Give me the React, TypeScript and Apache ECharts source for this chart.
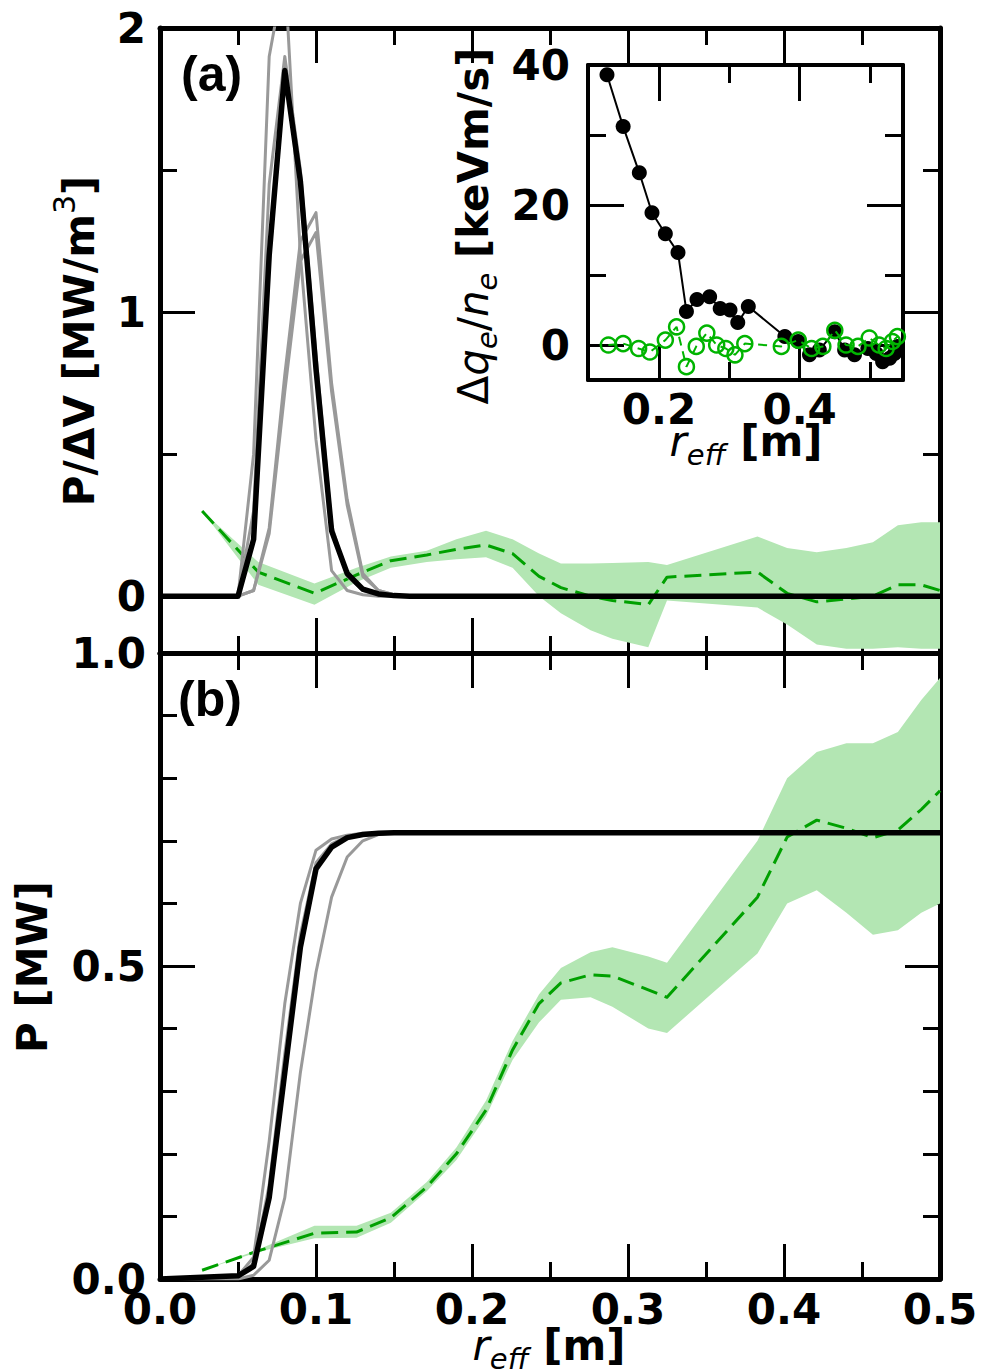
import React, { useEffect, useRef } from 'react';
import * as echarts from 'echarts';

// ---------- data ----------
// radial grid for the deposition profiles (black = model, gray = variants)
const rx = [0, 0.05, 0.06, 0.07, 0.08, 0.09, 0.1, 0.11, 0.12, 0.13, 0.14, 0.15, 0.16, 0.5];
const pdvBlack = [0, 0, 0.2, 1.2, 1.85, 1.46, 0.8, 0.23, 0.08, 0.025, 0.008, 0.002, 0, 0];
const pdvGrayA = [0, 0, 0.5, 1.9, 2.2, 1.2, 0.55, 0.09, 0.02, 0.005, 0, 0, 0, 0];
const pdvGrayB = [0, 0, 0.3, 1.45, 1.9, 1.5, 0.85, 0.25, 0.07, 0.02, 0.005, 0, 0, 0];
const pdvGrayC = [0, 0, 0.02, 0.24, 0.78, 1.25, 1.35, 0.75, 0.34, 0.08, 0.02, 0.005, 0, 0];
const pdvGrayD = [0, 0, 0.02, 0.22, 0.72, 1.18, 1.28, 0.72, 0.32, 0.07, 0.02, 0.005, 0, 0];

const pBlack = [0, 0.005, 0.02, 0.13, 0.33, 0.53, 0.655, 0.69, 0.705, 0.71, 0.712, 0.713, 0.713, 0.713];
const pGrayA = [0, 0.005, 0.035, 0.22, 0.44, 0.6, 0.685, 0.703, 0.709, 0.712, 0.713, 0.713, 0.713, 0.713];
const pGrayB = [0, 0.005, 0.025, 0.15, 0.36, 0.55, 0.665, 0.695, 0.707, 0.711, 0.713, 0.713, 0.713, 0.713];
const pGrayC = [0, 0, 0.006, 0.03, 0.13, 0.33, 0.49, 0.61, 0.674, 0.7, 0.71, 0.713, 0.713, 0.713];

// experimental (green) profiles with uncertainty band
const gx = [0.027, 0.063, 0.099, 0.126, 0.148, 0.171, 0.19, 0.209, 0.226, 0.243, 0.257, 0.276, 0.29, 0.313, 0.325, 0.383, 0.402, 0.421, 0.44, 0.457, 0.473, 0.488, 0.5];
const gPdv = [0.3, 0.085, 0.01, 0.075, 0.125, 0.145, 0.165, 0.18, 0.15, 0.07, 0.03, 0.0, -0.015, -0.03, 0.067, 0.085, 0.01, -0.02, -0.01, 0.0, 0.04, 0.04, 0.02];
const gPdvLo = [0.3, 0.04, -0.03, 0.05, 0.1, 0.12, 0.13, 0.137, 0.1, 0.0, -0.06, -0.12, -0.15, -0.18, -0.015, -0.04, -0.1, -0.17, -0.185, -0.185, -0.18, -0.185, -0.185];
const gPdvHi = [0.3, 0.12, 0.045, 0.1, 0.14, 0.16, 0.2, 0.23, 0.2, 0.15, 0.115, 0.115, 0.117, 0.12, 0.11, 0.21, 0.17, 0.155, 0.17, 0.19, 0.25, 0.26, 0.26];

const gP = [0.014, 0.045, 0.073, 0.075, 0.098, 0.147, 0.2, 0.27, 0.366, 0.44, 0.473, 0.486, 0.484, 0.462, 0.45, 0.61, 0.706, 0.733, 0.72, 0.705, 0.717, 0.75, 0.78];
const gPLo = [0.014, 0.043, 0.065, 0.066, 0.09, 0.14, 0.19, 0.26, 0.35, 0.41, 0.446, 0.45, 0.435, 0.4, 0.393, 0.52, 0.6, 0.621, 0.585, 0.55, 0.557, 0.585, 0.6];
const gPHi = [0.014, 0.047, 0.085, 0.085, 0.106, 0.155, 0.21, 0.285, 0.38, 0.455, 0.497, 0.522, 0.53, 0.515, 0.505, 0.7, 0.8, 0.842, 0.856, 0.856, 0.874, 0.925, 0.96];

// inset: delta q_e / n_e
const insBlackX = [0.126, 0.149, 0.172, 0.19, 0.209, 0.227, 0.239, 0.254, 0.272, 0.287, 0.301, 0.312, 0.327, 0.379, 0.398, 0.414, 0.428, 0.45, 0.464, 0.478, 0.497, 0.509, 0.518, 0.528, 0.535, 0.539];
const insBlackY = [38.6, 31.2, 24.6, 18.9, 15.9, 13.2, 4.8, 6.5, 6.9, 5.2, 5.0, 3.2, 5.5, 1.2, 0.5, -1.4, -0.7, 1.9, -0.7, -1.4, -0.5, -1.2, -2.4, -1.9, -1.2, -0.2];
const insGreenX = [0.128, 0.149, 0.171, 0.187, 0.209, 0.225, 0.239, 0.253, 0.268, 0.282, 0.295, 0.308, 0.322, 0.374, 0.398, 0.417, 0.433, 0.45, 0.466, 0.483, 0.499, 0.513, 0.523, 0.532, 0.539];
const insGreenY = [0, 0.2, -0.5, -1.0, 0.7, 2.6, -3.1, -0.2, 1.7, 0, -0.5, -1.4, 0.2, -0.2, 0.7, -0.5, -0.2, 2.1, 0, -0.2, 1.0, 0, -0.5, 0.5, 1.2];

const yTicksTop = [0, 1, 2];
const yMinorTop = [0.5, 1.5];
const xTicksInset = [0.2, 0.4];
const xMinorInset = [0.3, 0.5];
const yTicksInset = [0, 20, 40];
const yMinorInset = [10, 30];

// ---------- styles ----------
const FONT = 'DejaVu Sans';
const BLACK = '#000000';
const GRAY = '#999999';
const GREEN = '#00a000';
const GREEN2 = '#00b400';
const BAND = '#b3e6b3';

const labelStyle = { color: BLACK, fontFamily: FONT, fontWeight: 'bold' as const, fontSize: 42 };
const tickLine = { color: BLACK, width: 3 };

function xAxisMain(grid: number, position: string, showLabel: boolean) {
  return {
    type: 'value', gridIndex: grid, position, min: 0, max: 0.5, interval: 0.1,
    axisLine: { show: true, onZero: false, lineStyle: { color: BLACK, width: 5 } },
    axisTick: { show: true, inside: true, length: 35, lineStyle: tickLine },
    minorTick: { show: true, splitNumber: 2, length: 17, lineStyle: tickLine },
    splitLine: { show: false }, minorSplitLine: { show: false },
    axisLabel: showLabel
      ? { show: true, ...labelStyle, margin: 9, formatter: (v: number) => v.toFixed(1) }
      : { show: false },
  };
}

function customAxis(grid: number, position: string, min: number, max: number,
  ticks: number[], len: number, line: boolean, labels: number[] | null, fmt: (v: number) => string, margin: number, lw: number) {
  return {
    type: 'value', gridIndex: grid, position, min, max,
    axisLine: { show: line, onZero: false, lineStyle: { color: BLACK, width: lw } },
    axisTick: { show: true, inside: true, length: len, lineStyle: tickLine, customValues: ticks },
    splitLine: { show: false },
    axisLabel: labels ? { show: true, ...labelStyle, margin, customValues: labels, formatter: fmt } : { show: false },
  };
}

function yAxisBottom(position: string, showLabel: boolean) {
  return {
    type: 'value', gridIndex: 1, position, min: 0, max: 1, interval: 0.5,
    axisLine: { show: true, onZero: false, lineStyle: { color: BLACK, width: 5 } },
    axisTick: { show: true, inside: true, length: 35, lineStyle: tickLine },
    minorTick: { show: true, splitNumber: 5, length: 17, lineStyle: tickLine },
    splitLine: { show: false }, minorSplitLine: { show: false },
    axisLabel: showLabel ? { show: true, ...labelStyle, margin: 14, formatter: (v: number) => v.toFixed(1) } : { show: false },
  };
}

function lineSeries(xi: number, yi: number, xs: number[], ys: number[], color: string, width: number, z: number, type: any = 'solid') {
  return {
    type: 'line', xAxisIndex: xi, yAxisIndex: yi, silent: true, z,
    data: xs.map((x, i) => [x, ys[i]]),
    showSymbol: false, symbol: 'none',
    lineStyle: { color, width, type, join: 'round', cap: 'butt' },
  };
}

function bandSeries(xi: number, yi: number, lo: number[], hi: number[]) {
  return {
    type: 'custom', xAxisIndex: xi, yAxisIndex: yi, silent: true, clip: true, z: 1,
    data: [[gx[0], lo[0]]],
    renderItem: (_p: any, api: any) => {
      const up = gx.map((x, i) => api.coord([x, hi[i]]));
      const dn = gx.map((x, i) => api.coord([x, lo[i]])).reverse();
      return { type: 'polygon', shape: { points: up.concat(dn) }, style: { fill: BAND, stroke: null } };
    },
  };
}

const reg = { fontFamily: FONT, fontSize: 42, fill: BLACK };
const bold = { ...reg, fontWeight: 'bold' };
const ital = { ...reg, fontStyle: 'italic', fontWeight: 'normal' };
const sub = { fontFamily: FONT, fontSize: 29, fontStyle: 'italic', fontWeight: 'normal', fill: BLACK, padding: [28, 0, 0, 0] };
const sup = { fontFamily: FONT, fontSize: 30, fontWeight: 'normal', fill: BLACK, padding: [0, 0, 30, 0] };

function titleText(text: string, x: number, y: number, rotation: number) {
  return {
    type: 'text', x, y, rotation, z: 100, silent: true,
    style: {
      text, rich: { b: bold, i: ital, s: sub, u: sup, n: { ...reg, fontWeight: 'normal' } },
      align: 'center', verticalAlign: 'middle', textAlign: 'center', textVerticalAlign: 'middle',
    },
  };
}

function panelLabel(text: string, x: number, y: number) {
  return {
    type: 'text', x, y, z: 100, silent: true,
    style: {
      text, fontFamily: 'Liberation Sans', fontWeight: 'bold', fontSize: 50, fill: BLACK,
      align: 'left', verticalAlign: 'middle', textAlign: 'left', textVerticalAlign: 'middle',
    },
  };
}

const option: any = {
  animation: false,
  backgroundColor: '#ffffff',
  textStyle: { fontFamily: FONT },
  grid: [
    { left: 160, top: 28, width: 780, height: 625, outerBoundsMode: 'none', containLabel: false },
    { left: 160, top: 653, width: 780, height: 626, outerBoundsMode: 'none', containLabel: false },
    { left: 588, top: 65, width: 315, height: 315, outerBoundsMode: 'none', containLabel: false },
  ],
  xAxis: [
    xAxisMain(0, 'bottom', false),
    xAxisMain(0, 'top', false),
    xAxisMain(1, 'bottom', true),
    xAxisMain(1, 'top', false),
    customAxis(2, 'bottom', 0.099, 0.547, xTicksInset, 36, true, xTicksInset, (v) => v.toFixed(1), 8, 4),
    customAxis(2, 'bottom', 0.099, 0.547, xMinorInset, 18, false, null, (v) => String(v), 8, 4),
    customAxis(2, 'top', 0.099, 0.547, xTicksInset, 36, true, null, (v) => String(v), 8, 4),
    customAxis(2, 'top', 0.099, 0.547, xMinorInset, 18, false, null, (v) => String(v), 8, 4),
  ],
  yAxis: [
    customAxis(0, 'left', -0.2, 2, yTicksTop, 35, true, yTicksTop, (v) => String(Math.round(v)), 14, 5),
    customAxis(0, 'left', -0.2, 2, yMinorTop, 17, false, null, (v) => String(v), 14, 5),
    customAxis(0, 'right', -0.2, 2, yTicksTop, 35, true, null, (v) => String(v), 14, 5),
    customAxis(0, 'right', -0.2, 2, yMinorTop, 17, false, null, (v) => String(v), 14, 5),
    yAxisBottom('left', true),
    yAxisBottom('right', false),
    customAxis(2, 'left', -5, 40, yTicksInset, 36, true, yTicksInset, (v) => String(Math.round(v)), 18, 4),
    customAxis(2, 'left', -5, 40, yMinorInset, 18, false, null, (v) => String(v), 18, 4),
    customAxis(2, 'right', -5, 40, yTicksInset, 36, true, null, (v) => String(v), 18, 4),
    customAxis(2, 'right', -5, 40, yMinorInset, 18, false, null, (v) => String(v), 18, 4),
  ],
  series: [
    // panel (a)
    bandSeries(0, 0, gPdvLo, gPdvHi),
    lineSeries(0, 0, gx, gPdv, GREEN, 3, 2, [17, 8]),
    lineSeries(0, 0, rx, pdvGrayA, GRAY, 3, 3),
    lineSeries(0, 0, rx, pdvGrayB, GRAY, 3, 3),
    lineSeries(0, 0, rx, pdvGrayC, GRAY, 3, 3),
    lineSeries(0, 0, rx, pdvGrayD, GRAY, 3, 3),
    lineSeries(0, 0, rx, pdvBlack, BLACK, 5.5, 4),
    // panel (b)
    bandSeries(2, 4, gPLo, gPHi),
    lineSeries(2, 4, gx, gP, GREEN, 3, 2, [17, 8]),
    lineSeries(2, 4, rx, pGrayA, GRAY, 3, 3),
    lineSeries(2, 4, rx, pGrayB, GRAY, 3, 3),
    lineSeries(2, 4, rx, pGrayC, GRAY, 3, 3),
    lineSeries(2, 4, rx, pBlack, BLACK, 5.5, 4),
    // inset
    {
      type: 'line', xAxisIndex: 4, yAxisIndex: 6, silent: true, z: 5,
      data: insBlackX.map((x, i) => [x, insBlackY[i]]),
      symbol: 'circle', symbolSize: 15, showSymbol: true,
      itemStyle: { color: BLACK },
      lineStyle: { color: BLACK, width: 2 },
    },
    {
      type: 'line', xAxisIndex: 4, yAxisIndex: 6, silent: true, z: 6,
      data: insGreenX.map((x, i) => [x, insGreenY[i]]),
      symbol: 'circle', symbolSize: 15, showSymbol: true,
      itemStyle: { color: 'rgba(0,0,0,0)', borderColor: GREEN2, borderWidth: 2.5 },
      lineStyle: { color: GREEN2, width: 2, type: [9, 6] },
    },
  ],
  graphic: [
    panelLabel('(a)', 181, 74),
    panelLabel('(b)', 178, 699),
    titleText('{b|P/ΔV [MW/m}{u|3}{b|]}', 79, 341, Math.PI / 2),
    titleText('{b|P [MW]}', 32, 967, Math.PI / 2),
    titleText('{i|r}{s|eff}{b| [m]}', 549, 1345, 0),
    titleText('{i|r}{s|eff}{b| [m]}', 746, 441, 0),
    titleText('{n|Δ}{i|q}{s|e}{n|/}{i|n}{s|e}{b| [keVm/s]}', 473, 226, Math.PI / 2),
  ],
};

export default function App() {
  const ref = useRef<HTMLDivElement>(null);
  useEffect(() => {
    if (!ref.current) return;
    const chart = echarts.init(ref.current, null, { renderer: 'svg', width: 982, height: 1370 });
    chart.setOption(option);
    return () => chart.dispose();
  }, []);
  return <div ref={ref} style={{ position: 'absolute', left: 0, top: 0, width: 982, height: 1370 }} />;
}
